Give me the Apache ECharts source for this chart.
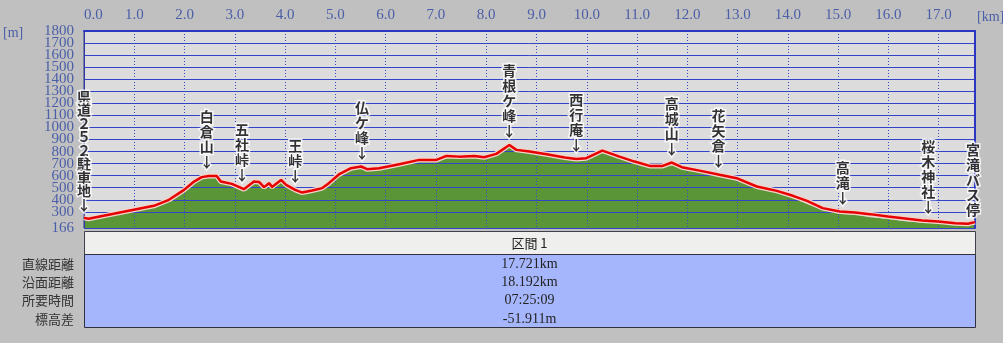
<!DOCTYPE html>
<html><head><meta charset="utf-8">
<script src="https://cdn.jsdelivr.net/npm/echarts@6/dist/echarts.min.js"></script>
<style>html,body{margin:0;padding:0;background:#c0c0c0}#c{width:1003px;height:343px}</style>
</head><body><div id="c"></div>
<script>
// ---- data ----
const distKm = [0.00,0.09,0.99,1.39,1.69,1.99,2.19,2.34,2.48,2.64,2.72,2.94,3.18,3.38,3.48,3.58,3.68,3.74,3.92,4.02,4.20,4.34,4.54,4.74,4.87,5.07,5.31,5.51,5.63,5.87,6.27,6.67,7.01,7.21,7.46,7.76,7.96,8.20,8.46,8.60,8.86,9.20,9.56,9.79,9.99,10.31,10.65,10.95,11.25,11.51,11.69,11.89,12.24,12.64,12.98,13.38,13.78,14.10,14.38,14.69,15.03,15.33,15.63,15.99,16.33,16.67,16.99,17.33,17.58,17.72];
const trackElev = [250,242,317,350,400,482,551,588,598,598,551,532,488,551,548,505,538,507,565,524,482,460,477,497,538,610,662,676,654,662,695,731,731,764,758,764,753,781,855,814,800,778,750,739,745,808,758,717,681,681,709,670,642,607,579,510,474,433,391,331,303,294,281,261,245,228,220,206,201,215];
const groundElev = [250,242,317,350,400,482,551,588,598,598,551,532,488,551,548,505,538,507,565,524,482,460,477,497,538,610,662,676,654,662,695,731,731,764,758,764,753,781,855,814,800,778,750,739,745,808,758,717,681,681,709,670,642,607,579,496,460,414,366,317,284,275,256,240,223,212,203,193,193,200];
const xMaxKm = 17.721;
const yTicks = [166,300,400,500,600,700,800,900,1000,1100,1200,1300,1400,1500,1600,1700,1800];
const annoNames = ['県道２５２駐車地↓','白倉山↓','五社峠↓','王峠↓','仏ケ峰↓','青根ケ峰↓','西行庵↓','高城山↓','花矢倉↓','高滝↓','桜木神社↓','宮滝バス停'];
const annoKm = [0.0,2.44,3.14,4.20,5.53,8.46,9.79,11.69,12.62,15.09,16.79,17.68];
const annoElev = [250,598,490,482,676,855,739,709,607,300,226,205];
const sectionTitle = '区間 1';
const statLabels = ['直線距離','沿面距離','所要時間','標高差'];
const statValues = ['17.721km','18.192km','07:25:09','-51.911m'];

// ---- chart ----
const chart = echarts.init(document.getElementById('c'), null, {renderer:'canvas'});
const trackData = distKm.map((d,i)=>[d, trackElev[i]]);
const groundData = distKm.map((d,i)=>[d, groundElev[i]]);
const annoData = annoNames.map((n,i)=>({
  value:[annoKm[i], annoElev[i]], name:n,
  label: i===0 ? {lineHeight:13.5} : undefined
}));
// split tick labels over two coincident axes so neighbours never collide
const yLabelsA = yTicks.filter((v,i)=>i%2===0);
const yLabelsB = yTicks.filter((v,i)=>i%2===1);

const gL=84, gR=975, gT=31, gB=228;
const tTop=231, tHead=254, tBot=327, cx=(gL+gR)/2;
const rowY=[264,282.5,300.5,319];

const graphics = [
  {type:'text', left:3, top:26, style:{text:'[m]', fill:'#4b5ea8', font:'14px "Liberation Serif"'}},
  {type:'text', left:977, top:10, style:{text:'[km]', fill:'#4b5ea8', font:'14px "Liberation Serif"'}},
  {type:'rect', shape:{x:gL+0.5,y:tTop+0.5,width:gR-gL,height:tHead-tTop}, style:{fill:'#efefee', stroke:'#404048', lineWidth:1}},
  {type:'rect', shape:{x:gL+0.5,y:tHead+0.5,width:gR-gL,height:tBot-tHead}, style:{fill:'#a6b6fc', stroke:'#303040', lineWidth:1}},
  {type:'text', x:cx, y:(tTop+tHead)/2+1, style:{text:sectionTitle, fill:'#222', font:'13px "Noto Sans CJK JP"', textAlign:'center', textVerticalAlign:'middle'}}
];
statLabels.forEach((t,i)=>{
  graphics.push({type:'text', x:74, y:rowY[i], style:{text:t, fill:'#333', font:'13px "Noto Sans CJK JP"', textAlign:'right', textVerticalAlign:'middle'}});
  graphics.push({type:'text', x:cx, y:rowY[i], style:{text:statValues[i], fill:'#222', font:'14px "Liberation Serif"', textAlign:'center', textVerticalAlign:'middle'}});
});

const yLabelStyle = {color:'#4b5ea8', fontFamily:'Liberation Serif', fontSize:15, margin:10,
  showMaxLabel:true, showMinLabel:true, hideOverlap:false, formatter:v=>String(v)};

chart.setOption({
  animation:false,
  backgroundColor:'#c0c0c0',
  grid:{left:gL, right:1003-gR, top:gT, bottom:343-gB, show:true, backgroundColor:'#dcdcdc', borderColor:'#303a9a', borderWidth:1},
  xAxis:{type:'value', position:'top', min:0, max:xMaxKm, interval:1, z:3,
    axisLine:{show:true, onZero:false, lineStyle:{color:'#2a36c0', width:2}},
    axisTick:{show:false},
    axisLabel:{color:'#4b5ea8', fontFamily:'Liberation Serif', fontSize:15, margin:8, showMaxLabel:false, alignMinLabel:'left',
      formatter:v=>v.toFixed(1)},
    splitLine:{show:true, lineStyle:{color:'#3a48c8', width:1, type:[1,2]}}
  },
  yAxis:[{type:'value', min:166, max:1800, z:3,
    axisLine:{show:true, lineStyle:{color:'#303a9a', width:1}},
    axisTick:{show:false, customValues:yTicks},
    axisLabel:Object.assign({customValues:yLabelsA}, yLabelStyle),
    splitLine:{show:true, lineStyle:{color:'#3444c8', width:1}}
  },{type:'value', position:'left', min:166, max:1800, z:3,
    axisLine:{show:false}, axisTick:{show:false, customValues:yLabelsB},
    axisLabel:Object.assign({customValues:yLabelsB}, yLabelStyle), splitLine:{show:false}
  },{type:'value', position:'right', min:166, max:1800, z:3,
    axisLine:{show:true, lineStyle:{color:'#2a36c0', width:2}},
    axisTick:{show:false}, axisLabel:{show:false}, splitLine:{show:false}
  }],
  series:[
    {type:'line', data:groundData, symbol:'none', z:1, lineStyle:{width:0}, areaStyle:{color:'#5a9637', opacity:1, origin:'start'}},
    {type:'line', data:trackData, symbol:'none', z:4, lineStyle:{color:'#f2d4cc', width:5}},
    {type:'line', data:trackData, symbol:'none', z:5, lineStyle:{color:'#e60000', width:2.5}},
    {type:'scatter', data:annoData, symbol:'circle', symbolSize:1, z:6, itemStyle:{color:'rgba(0,0,0,0)'},
      labelLayout:{hideOverlap:false},
      label:{show:true, position:'top', distance:6, color:'#000', fontFamily:'Noto Sans CJK JP', fontSize:14, fontWeight:'bold', lineHeight:15,
        textBorderColor:'#fff', textBorderWidth:3, align:'center',
        formatter:p=>p.name.split('').join('\n')}}
  ],
  graphic:graphics
});
</script></body></html>
